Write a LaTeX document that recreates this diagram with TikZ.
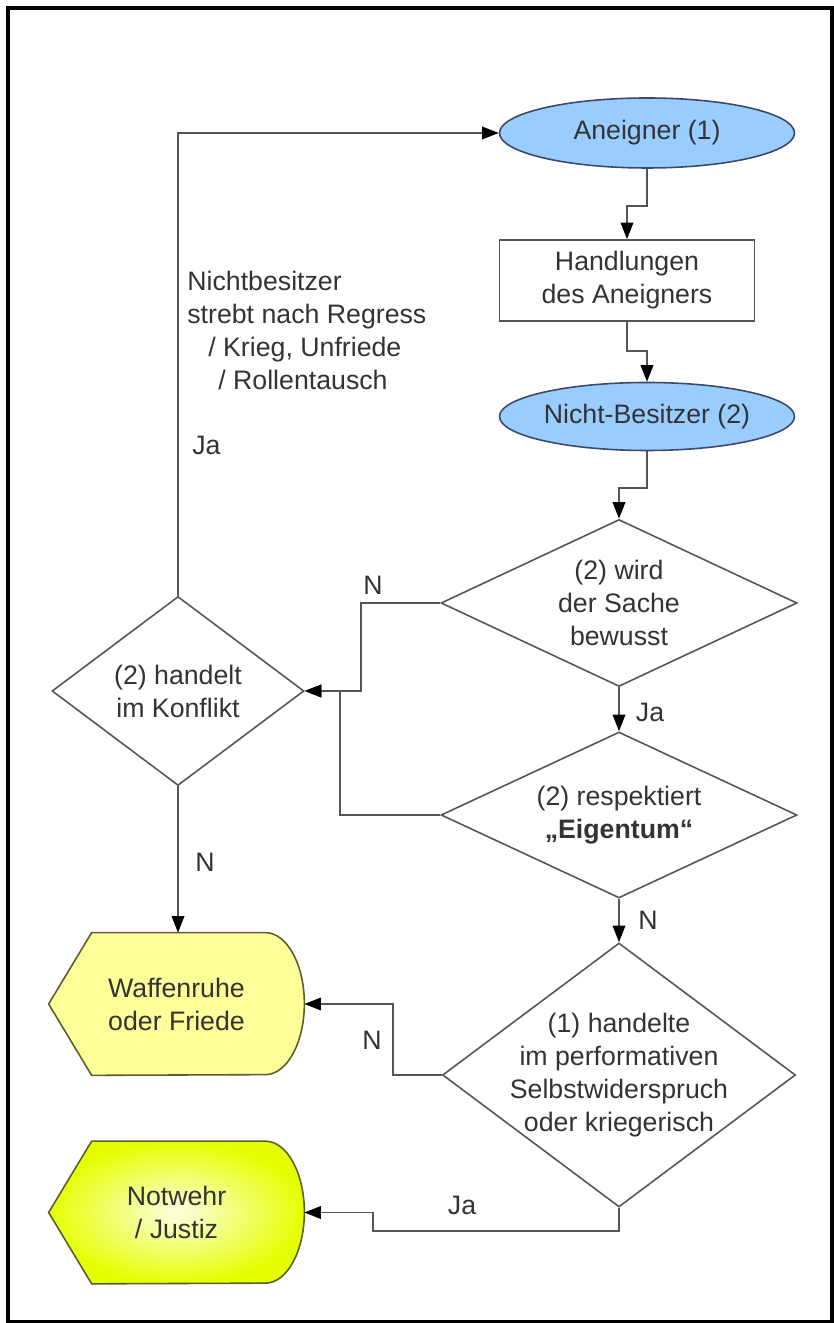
\documentclass[tikz,border=0pt]{standalone}
\usepackage{fontspec}
\setmainfont{Liberation Sans}
\usetikzlibrary{shapes.geometric,arrows.meta,backgrounds,calc}
\definecolor{txtgray}{HTML}{333333}
\definecolor{linegray}{HTML}{555555}
\definecolor{ovalblue}{HTML}{99CCFF}
\definecolor{ovalborder}{HTML}{3A4A66}
\definecolor{paleyellow}{HTML}{FFFF99}
\definecolor{limeyellow}{HTML}{E5FF00}
\definecolor{shapeborder}{HTML}{5C5C2E}

\begin{document}
\begin{tikzpicture}[
    font=\fontsize{15.2pt}{18.8pt}\selectfont,
    text=txtgray,
    inner sep=0pt,
    oval/.style={ellipse, draw=ovalborder, fill=ovalblue, line width=0.9pt, minimum width=5.9cm, minimum height=1.4cm},
    process/.style={rectangle, draw=linegray, line width=0.9pt, minimum width=5.1cm, minimum height=1.62cm, align=center},
    decision/.style={diamond, draw=linegray, line width=0.9pt, align=center},
    terminal/.style={rectangle, minimum width=5.1cm, minimum height=2.84cm, align=center},
    flow/.style={draw=linegray, line width=1pt, -{Triangle[length=3.3mm,width=2.5mm,color=black]}}
]
\useasboundingbox (0,0) rectangle (16.68,26.46);

% Frame
\draw[line width=1.8pt] (0.16,0.03) rectangle (16.64,26.3);

% Actors and action
\node[oval] (aneigner) at (12.94,23.8) {Aneigner (1)};
\node[process] (handlungen) at (12.54,20.85) {Handlungen\\des Aneigners};
\node[oval, minimum height=1.36cm] (besitzer) at (12.94,18.13) {Nicht-Besitzer (2)};

% Decisions
\node[decision, aspect=2.13, minimum width=7.12cm, minimum height=3.34cm] (bewusst) at (12.38,14.4) {(2) wird\\der Sache\\bewusst};
\node[decision, aspect=1.33, minimum width=5.04cm, minimum height=3.78cm] (konflikt) at (3.56,12.64) {(2) handelt\\im Konflikt};
\node[decision, aspect=2.14, minimum width=7.12cm, minimum height=3.32cm] (eigentum) at (12.38,10.16) {(2) respektiert\\\textbf{„Eigentum“}};
\node[decision, aspect=1.34, minimum width=7.06cm, minimum height=5.28cm, inner ysep=-0.35cm] (kriegerisch) at (12.38,4.96) {(1) handelte\\im performativen\\Selbstwiderspruch\\oder kriegerisch};

% Outcomes
\node[terminal] (waffenruhe) at (3.53,6.38) {Waffenruhe\\oder Friede};
\node[terminal] (notwehr) at (3.53,2.21) {Notwehr\\/ Justiz};
\begin{scope}[on background layer]
\filldraw[fill=paleyellow, draw=shapeborder, line width=0.9pt] (waffenruhe.west) -- ([xshift=0.86cm]waffenruhe.north west) -- ([xshift=-0.78cm]waffenruhe.north east) arc[start angle=90, end angle=-90, x radius=0.78cm, y radius=1.42cm] -- ([xshift=0.86cm]waffenruhe.south west) -- cycle;
\shadedraw[inner color=limeyellow!12, outer color=limeyellow, draw=shapeborder, line width=0.9pt] (notwehr.west) -- ([xshift=0.86cm]notwehr.north west) -- ([xshift=-0.78cm]notwehr.north east) arc[start angle=90, end angle=-90, x radius=0.78cm, y radius=1.42cm] -- ([xshift=0.86cm]notwehr.south west) -- cycle;
\end{scope}

% Connectors
\draw[flow] (konflikt.north) |- (aneigner.west);
\draw[flow] (aneigner.south) -- ++(0,-0.74) -| (handlungen.north);
\draw[flow] (handlungen.south) -- ++(0,-0.58) -| (besitzer.north);
\draw[flow] (besitzer.south) -- ++(0,-0.74) -| (bewusst.north);
\draw[flow] (bewusst.west) -- ++(-1.58,0) |- (konflikt.east);
\draw[flow] (eigentum.west) -- ++(-2.0,0) |- (konflikt.east);
\draw[flow] (bewusst.south) -- (eigentum.north);
\draw[flow] (eigentum.south) -- (kriegerisch.north);
\draw[flow] (konflikt.south) -- (konflikt.south |- waffenruhe.north);
\draw[flow] (kriegerisch.west) -- ++(-0.98,0) |- (waffenruhe.east);
\draw[flow] (kriegerisch.south) -- ++(0,-0.46) -| ($(notwehr.east)+(1.38,0)$) -- (notwehr.east);

% Branch labels
\node[anchor=west, align=left] (regress) at (3.74,19.85) {Nichtbesitzer\\strebt nach Regress\\\hspace*{0.42cm}/ Krieg, Unfriede\\\hspace*{0.62cm}/ Rollentausch};
\node[anchor=west] (ja0) at (3.84,17.56) {Ja};
\node (nein1) at (7.46,14.76) {N};
\node (ja1) at (13.0,12.22) {Ja};
\node (nein2) at (4.1,9.22) {N};
\node (nein3) at (12.96,8.06) {N};
\node (nein4) at (7.44,5.66) {N};
\node (ja2) at (9.24,2.36) {Ja};

\end{tikzpicture}
\end{document}
